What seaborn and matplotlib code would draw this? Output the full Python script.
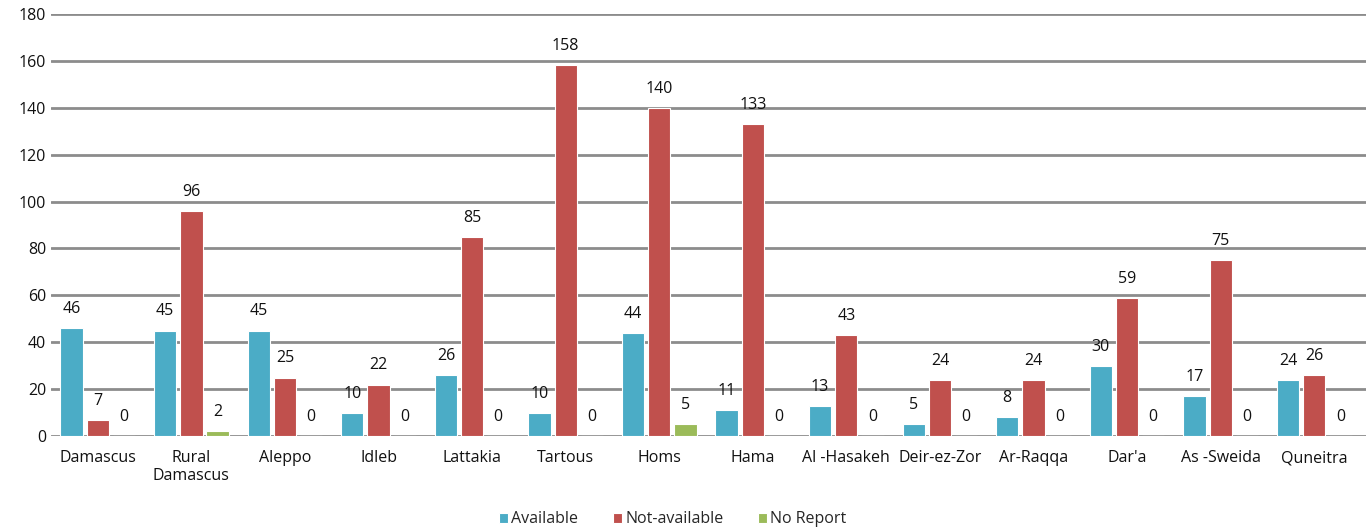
import pandas as pd
import matplotlib.pyplot as plt
import seaborn as sns

regions = ['Damascus', 'Rural\nDamascus', 'Aleppo', 'Idleb', 'Lattakia', 'Tartous', 'Homs',
           'Hama', 'Al -Hasakeh', 'Deir-ez-Zor', 'Ar-Raqqa', "Dar'a", 'As -Sweida', 'Quneitra']
available = [46, 45, 45, 10, 26, 10, 44, 11, 13, 5, 8, 30, 17, 24]
not_available = [7, 96, 25, 22, 85, 158, 140, 133, 43, 24, 24, 59, 75, 26]
no_report = [0, 2, 0, 0, 0, 0, 5, 0, 0, 0, 0, 0, 0, 0]
series = ['Available', 'Not-available', 'No Report']
colors = ['#4BACC6', '#C0504D', '#9BBB59']

df = pd.DataFrame({'region': regions * 3,
                   'status': [s for s in series for _ in regions],
                   'count': available + not_available + no_report})

sns.set_style('white')
plt.rcParams['font.family'] = ['Open Sans', 'DejaVu Sans']

fig = plt.figure(figsize=(13.68, 5.3), dpi=100)
ax = fig.add_axes([0.0373, 0.177, 0.961, 0.797])
sns.barplot(data=df, x='region', y='count', hue='status', palette=colors, saturation=1,
            width=0.84, gap=0.15, edgecolor='white', linewidth=0.8, ax=ax)

for c in ax.containers:
    ax.bar_label(c, padding=8, fontsize=11.5, color='#111111')

ax.set_ylim(0, 180)
ax.set_yticks(range(0, 181, 20))
ax.set_xlim(-0.5, 13.55)
ax.set_axisbelow(True)
ax.yaxis.grid(True, color='#8c8c8c', linewidth=2)
for s in ax.spines.values():
    s.set_visible(False)
ax.tick_params(axis='both', length=0, labelsize=11.5, colors='#111111')
ax.tick_params(axis='x', pad=10)
ax.set_xlabel('')
ax.set_ylabel('')

ax.legend(loc='lower center', bbox_to_anchor=(0.473, -0.25), ncol=3, frameon=False,
          fontsize=11.5, handlelength=0.55, handleheight=0.55, handletextpad=0.2,
          columnspacing=2.2)

fig.savefig('out.png', dpi=100)
